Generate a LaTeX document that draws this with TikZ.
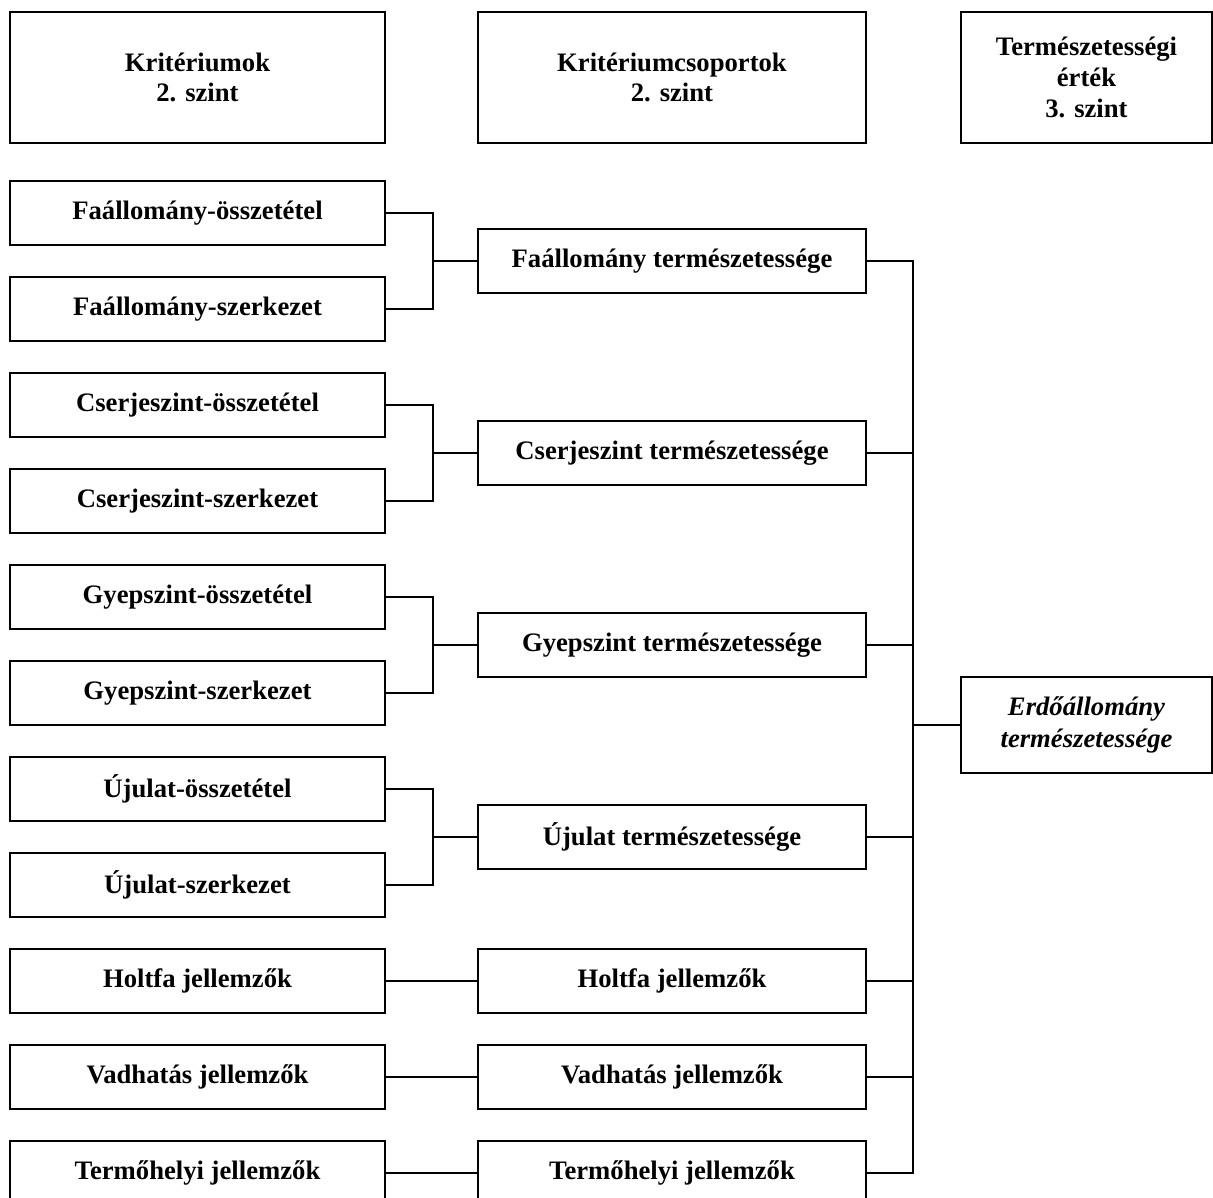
\documentclass[tikz,border=0pt]{standalone}
\usepackage{fontspec}
\setmainfont{Liberation Serif}
\begin{document}
\begin{tikzpicture}[x=0.75pt,y=-0.75pt,
  box/.style={draw,line width=1.2pt,rectangle,inner sep=0pt,align=center,
    font=\fontsize{20}{23}\selectfont\bfseries},
  lbox/.style={box,minimum width=281.25pt,minimum height=48pt},
  mbox/.style={box,minimum width=291pt,minimum height=48pt},
  hbox/.style={box,minimum height=98.25pt},
  conn/.style={line width=1.2pt}]
\useasboundingbox (0,0) rectangle (1213,1198);
\fill[white] (0,0) rectangle (1213,1198);
% headers
\node[hbox,minimum width=281.25pt] (h1) at (197.5,77.5) {Kritériumok\\2. szint};
\node[hbox,minimum width=291pt] (h2) at (672,77.5) {Kritériumcsoportok\\2. szint};
\node[hbox,minimum width=188.25pt] (h3) at (1086.5,77.5) {Természetességi\\érték\\3. szint};
% left column
\node[lbox] (l1) at (197.5,213) {Faállomány-összetétel};
\node[lbox] (l2) at (197.5,309) {Faállomány-szerkezet};
\node[lbox] (l3) at (197.5,405) {Cserjeszint-összetétel};
\node[lbox] (l4) at (197.5,501) {Cserjeszint-szerkezet};
\node[lbox] (l5) at (197.5,597) {Gyepszint-összetétel};
\node[lbox] (l6) at (197.5,693) {Gyepszint-szerkezet};
\node[lbox] (l7) at (197.5,789) {Újulat-összetétel};
\node[lbox] (l8) at (197.5,885) {Újulat-szerkezet};
\node[lbox] (l9) at (197.5,981) {Holtfa jellemzők};
\node[lbox] (l10) at (197.5,1077) {Vadhatás jellemzők};
\node[lbox] (l11) at (197.5,1173) {Termőhelyi jellemzők};
% middle column
\node[mbox] (m1) at (672,261) {Faállomány természetessége};
\node[mbox] (m2) at (672,453) {Cserjeszint természetessége};
\node[mbox] (m3) at (672,645) {Gyepszint természetessége};
\node[mbox] (m4) at (672,837) {Újulat természetessége};
\node[mbox] (m5) at (672,981) {Holtfa jellemzők};
\node[mbox] (m6) at (672,1077) {Vadhatás jellemzők};
\node[mbox] (m7) at (672,1173) {Termőhelyi jellemzők};
% right
\node[box,minimum width=188.25pt,minimum height=72pt,font=\fontsize{20}{24}\selectfont\bfseries\itshape] (e) at (1086.5,725) {Erdőállomány\\természetessége};
% junctions
\coordinate (j1) at (433,261);
\coordinate (j2) at (433,453);
\coordinate (j3) at (433,645);
\coordinate (j4) at (433,837);
\coordinate (r) at (913,725);
% connectors
\draw[conn] (l1.east) -| (j1) |- (l2.east);
\draw[conn] (j1) -- (m1.west);
\draw[conn] (l3.east) -| (j2) |- (l4.east);
\draw[conn] (j2) -- (m2.west);
\draw[conn] (l5.east) -| (j3) |- (l6.east);
\draw[conn] (j3) -- (m3.west);
\draw[conn] (l7.east) -| (j4) |- (l8.east);
\draw[conn] (j4) -- (m4.west);
\draw[conn] (l9.east) -- (m5.west);
\draw[conn] (l10.east) -- (m6.west);
\draw[conn] (l11.east) -- (m7.west);
\draw[conn] (m1.east) -| (r) |- (m7.east);
\foreach \m in {m2,m3,m4,m5,m6} \draw[conn] (\m.east) -- (r |- \m.east);
\draw[conn] (r) -- (e.west);
\end{tikzpicture}
\end{document}
